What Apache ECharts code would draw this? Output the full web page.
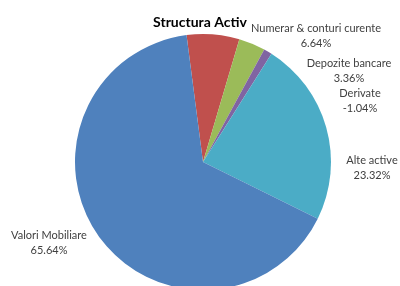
<!DOCTYPE html>
<html>
<head>
<meta charset="utf-8">
<script src="https://cdn.jsdelivr.net/npm/echarts@6/dist/echarts.min.js"></script>
<style>
    html, body { margin: 0; padding: 0; background: #fff; }
    #chart { width: 400px; height: 286px; }
</style>
</head>
<body>
<div id="chart"></div>
<script>
    // categorii si valori (%), in ordinea din grafic
    const categories = ['Numerar & conturi curente', 'Depozite bancare', 'Derivate', 'Alte active', 'Valori Mobiliare'];
    const values = [6.64, 3.36, -1.04, 23.32, 65.64];
    const colors = ['#C0504D', '#9BBB59', '#8064A2', '#4BACC6', '#4F81BD'];

    // pozitia etichetelor (centrul textului), ca in Excel
    const labelPos = [[316, 36], [349, 71], [360, 101], [372, 168], [49, 243]];

    let myChart = echarts.init(document.getElementById('chart'));

    let seriesData = categories.map((name, i) => {
        return {
            name: name,
            value: Math.abs(values[i]),
            raw: values[i],
            itemStyle: {color: colors[i]}
        };
    });

    let option = {
        animation: false,
        title: {
            text: 'Structura Activ',
            left: 'center',
            top: 10,
            textStyle: {
                fontFamily: 'Lato',
                fontSize: 14,
                fontWeight: 'bold',
                color: '#000'
            }
        },
        series: [{
            type: 'pie',
            center: [203, 162],
            radius: 128,
            startAngle: 97.4,
            clockwise: true,
            avoidLabelOverlap: false,
            itemStyle: {borderWidth: 0},
            label: {
                show: true,
                position: 'outside',
                fontFamily: 'Lato',
                fontSize: 11,
                lineHeight: 15,
                color: '#404040',
                align: 'center',
                formatter: p => p.name + '\n' + p.data.raw.toFixed(2) + '%'
            },
            labelLine: {show: false},
            labelLayout: params => ({
                x: labelPos[params.dataIndex][0],
                y: labelPos[params.dataIndex][1],
                align: 'center',
                verticalAlign: 'middle'
            }),
            data: seriesData
        }]
    };

    myChart.setOption(option);
</script>
</body>
</html>
